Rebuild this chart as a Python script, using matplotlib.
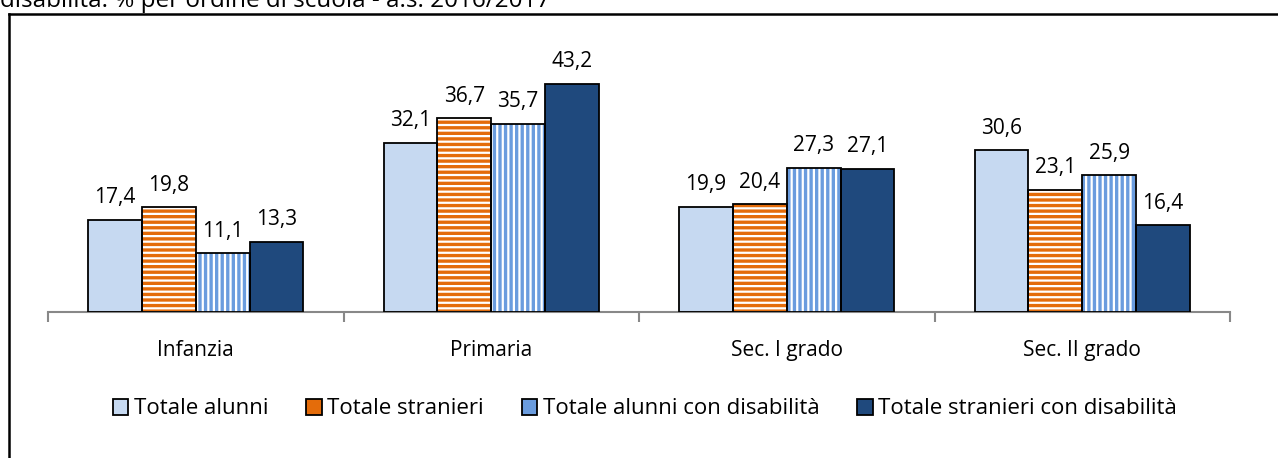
import matplotlib
matplotlib.use('Agg')
import matplotlib.pyplot as plt
from matplotlib.lines import Line2D
import numpy as np

plt.rcParams['font.family'] = ['Open Sans', 'DejaVu Sans']
plt.rcParams['hatch.linewidth'] = 1.6

categories = ['Infanzia', 'Primaria', 'Sec. I grado', 'Sec. II grado']
series_names = ['Totale alunni', 'Totale stranieri', 'Totale alunni con disabilità',
                'Totale stranieri con disabilità']
totale_alunni = [17.4, 32.1, 19.9, 30.6]
totale_stranieri = [19.8, 36.7, 20.4, 23.1]
alunni_disabilita = [11.1, 35.7, 27.3, 25.9]
stranieri_disabilita = [13.3, 43.2, 27.1, 16.4]
title_text = 'disabilità. % per ordine di scuola - a.s. 2016/2017'

series = [totale_alunni, totale_stranieri, alunni_disabilita, stranieri_disabilita]
faces = ['#C6D9F1', '#E46C0A', '#6A9CDE', '#1F497D']
hatches = [None, '---', '|||', None]
FS = 15

W, H = 1278, 458
fig = plt.figure(figsize=(W / 100, H / 100), dpi=100)
ax = fig.add_axes([48 / W, 1 - 312 / H, (1230 - 48) / W, (312 - 48) / H])

x = np.arange(len(categories))
bw = 0.182
for i, (vals, fc, h) in enumerate(zip(series, faces, hatches)):
    pos = x + (i - 1.5) * bw
    ax.bar(pos, vals, bw, color=fc, edgecolor='none', zorder=2)
    if h:
        ax.bar(pos, vals, bw, color='none', edgecolor='white', hatch=h, linewidth=0, zorder=3)
    ax.bar(pos, vals, bw, color='none', edgecolor='black', linewidth=1.3, zorder=4)
    for p, v in zip(pos, vals):
        ax.annotate(f'{v:.1f}'.replace('.', ','), (p, v), xytext=(0, 12), textcoords='offset points',
                    ha='center', va='baseline', fontsize=FS)

ax.set_xlim(-0.5, len(categories) - 0.5)
ax.set_ylim(0, 50)
ax.set_yticks([])
for s in ['top', 'right', 'left']:
    ax.spines[s].set_visible(False)
ax.spines['bottom'].set_color('#888888')
ax.spines['bottom'].set_linewidth(1.5)
ax.set_xticks(np.arange(-0.5, len(categories)), minor=False)
ax.set_xticklabels([])
ax.tick_params(axis='x', which='major', length=7, width=1.5, color='#888888', direction='out')
ax.set_xticks(x, minor=True)
ax.set_xticklabels(categories, minor=True, fontsize=FS)
ax.tick_params(axis='x', which='minor', length=0, pad=20)

# legend
handles = [plt.Rectangle((0, 0), 1, 1, facecolor=fc, edgecolor='black', linewidth=1.3)
           for fc in faces]
leg = fig.legend(handles, series_names, loc='center', bbox_to_anchor=(645 / W, 1 - 409 / H),
                 ncol=4, frameon=False, fontsize=16, handlelength=0.7, handleheight=0.7,
                 handletextpad=0.25, columnspacing=1.7)

# outer frame and clipped title
fig.add_artist(Line2D([9 / W, 1], [1 - 14 / H, 1 - 14 / H], color='black', lw=1.8))
fig.add_artist(Line2D([9 / W, 9 / W], [0, 1 - 14 / H], color='black', lw=1.8))
fig.text(0.0, 1 - 7 / H, title_text, ha='left', va='baseline', fontsize=17.5)

fig.savefig('out.png', dpi=100)
